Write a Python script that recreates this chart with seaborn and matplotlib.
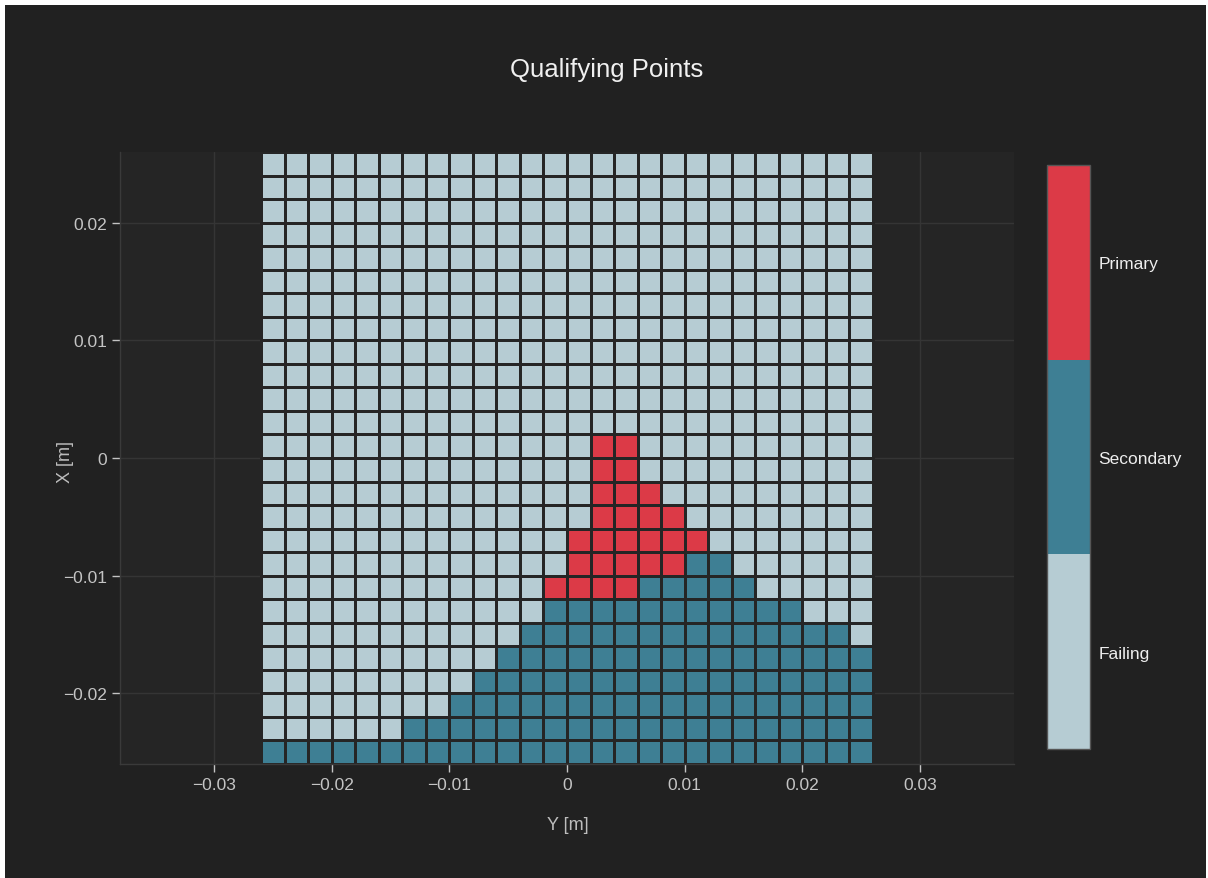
import numpy as np
import pandas as pd
import matplotlib
matplotlib.use("Agg")
import matplotlib.pyplot as plt
from matplotlib.colors import ListedColormap
from matplotlib.patches import Rectangle
import seaborn as sns

# cell centres (m)
y_centers = [-0.025, -0.023, -0.021, -0.019, -0.017, -0.015, -0.013, -0.011, -0.009,
             -0.007, -0.005, -0.003, -0.001, 0.001, 0.003, 0.005, 0.007, 0.009,
             0.011, 0.013, 0.015, 0.017, 0.019, 0.021, 0.023, 0.025]
x_centers = [0.025, 0.023, 0.021, 0.019, 0.017, 0.015, 0.013, 0.011, 0.009,
             0.007, 0.005, 0.003, 0.001, -0.001, -0.003, -0.005, -0.007, -0.009,
             -0.011, -0.013, -0.015, -0.017, -0.019, -0.021, -0.023, -0.025]

# F = Failing, S = Secondary, P = Primary (top row first)
rows = [
    "FFFFFFFFFFFFFFFFFFFFFFFFFF",
    "FFFFFFFFFFFFFFFFFFFFFFFFFF",
    "FFFFFFFFFFFFFFFFFFFFFFFFFF",
    "FFFFFFFFFFFFFFFFFFFFFFFFFF",
    "FFFFFFFFFFFFFFFFFFFFFFFFFF",
    "FFFFFFFFFFFFFFFFFFFFFFFFFF",
    "FFFFFFFFFFFFFFFFFFFFFFFFFF",
    "FFFFFFFFFFFFFFFFFFFFFFFFFF",
    "FFFFFFFFFFFFFFFFFFFFFFFFFF",
    "FFFFFFFFFFFFFFFFFFFFFFFFFF",
    "FFFFFFFFFFFFFFFFFFFFFFFFFF",
    "FFFFFFFFFFFFFFFFFFFFFFFFFF",
    "FFFFFFFFFFFFFFPPFFFFFFFFFF",
    "FFFFFFFFFFFFFFPPFFFFFFFFFF",
    "FFFFFFFFFFFFFFPPPFFFFFFFFF",
    "FFFFFFFFFFFFFFPPPPFFFFFFFF",
    "FFFFFFFFFFFFFPPPPPPFFFFFFF",
    "FFFFFFFFFFFFFPPPPPSSFFFFFF",
    "FFFFFFFFFFFFPPPPSSSSSFFFFF",
    "FFFFFFFFFFFFSSSSSSSSSSSFFF",
    "FFFFFFFFFFFSSSSSSSSSSSSSSF",
    "FFFFFFFFFFSSSSSSSSSSSSSSSS",
    "FFFFFFFFFSSSSSSSSSSSSSSSSS",
    "FFFFFFFFSSSSSSSSSSSSSSSSSS",
    "FFFFFFSSSSSSSSSSSSSSSSSSSS",
    "SSSSSSSSSSSSSSSSSSSSSSSSSS",
]
class_names = ["Failing", "Secondary", "Primary"]
class_codes = {"F": 0, "S": 1, "P": 2}
class_colors = ["#b6ccd3", "#3e7f94", "#dc3a47"]

x_ticks = [-0.03, -0.02, -0.01, 0, 0.01, 0.02, 0.03]
y_ticks = [-0.02, -0.01, 0, 0.01, 0.02]
x_range = (-0.038, 0.038)

paper_bg = "#212121"
plot_bg = "#252525"
grid_c = "#353535"
tick_c = "#c4c4c4"

grid = pd.DataFrame([[class_codes[c] for c in r] for r in rows],
                    index=x_centers, columns=y_centers)

sns.set_theme(style="dark")
plt.rcParams["font.family"] = ["Liberation Sans", "DejaVu Sans"]

W, H = 1208, 879
fig = plt.figure(figsize=(W / 100, H / 100), dpi=100, facecolor=paper_bg)
# thin white margin on top / left / right of the screenshot
for (x0, y0, w0, h0) in [(0, 873, W, 6), (0, 0, 5, H), (W - 2, 0, 2, H)]:
    fig.patches.append(Rectangle((x0 / W, y0 / H), w0 / W, h0 / H,
                                 transform=fig.transFigure, facecolor="white",
                                 edgecolor="none"))
ax = fig.add_axes([120 / W, 1 - 765 / H, 894 / W, 612 / H])
cax = fig.add_axes([1047 / W, 1 - 750 / H, 43 / W, 584 / H])
ax.set_facecolor(plot_bg)

sns.heatmap(grid, ax=ax, cmap=ListedColormap(class_colors), vmin=-0.5, vmax=2.5,
            linewidths=1.8, linecolor=plot_bg, cbar_ax=cax,
            cbar_kws={"ticks": [0, 1, 2]}, xticklabels=False, yticklabels=False)

# map data units onto heatmap cell positions
w = y_centers[1] - y_centers[0]
left = y_centers[0] - w / 2
top = x_centers[0] + w / 2
to_col = lambda v: (np.asarray(v) - left) / w
to_row = lambda v: (top - np.asarray(v)) / w


def fmt(v):
    s = "0" if v == 0 else f"{v:g}"
    return s.replace("-", "\u2212")


ax.set_xlim(to_col(x_range[0]), to_col(x_range[1]))
ax.set_ylim(to_row(-top), to_row(top))
ax.set_xticks(to_col(x_ticks))
ax.set_xticklabels([fmt(v) for v in x_ticks])
ax.set_yticks(to_row(y_ticks))
ax.set_yticklabels([fmt(v) for v in y_ticks], rotation=0)
ax.set_xlabel("")
ax.set_ylabel("")
ax.tick_params(axis="both", colors=tick_c, labelsize=12.5, length=5.5, width=1,
               direction="out", bottom=True, left=True, pad=4)
ax.grid(True, color=grid_c, lw=1)
ax.set_axisbelow(True)
for side in ["top", "right"]:
    ax.spines[side].set_visible(False)
for side in ["left", "bottom"]:
    ax.spines[side].set_visible(True)
    ax.spines[side].set_color("#3a3a3a")
    ax.spines[side].set_linewidth(1)

cbar = ax.collections[0].colorbar
cbar.set_ticklabels(class_names)
cbar.ax.tick_params(length=0, colors="#eeeeee", labelsize=12.5, pad=6)
cbar.outline.set_visible(True)
cbar.outline.set_edgecolor("#555555")
cbar.outline.set_linewidth(1)

fig.text(607 / W, 1 - 70 / H, "Qualifying Points", color="#f0f0f0", fontsize=18.5,
         ha="center", va="center")
fig.text(568 / W, 1 - 826 / H, "Y [m]", color="#bdbdbd", fontsize=13,
         ha="center", va="center")
fig.text(66 / W, 1 - 462 / H, "X [m]", color="#bdbdbd", fontsize=13,
         ha="center", va="center", rotation=90)

fig.savefig("out.png", dpi=100, facecolor=paper_bg)
